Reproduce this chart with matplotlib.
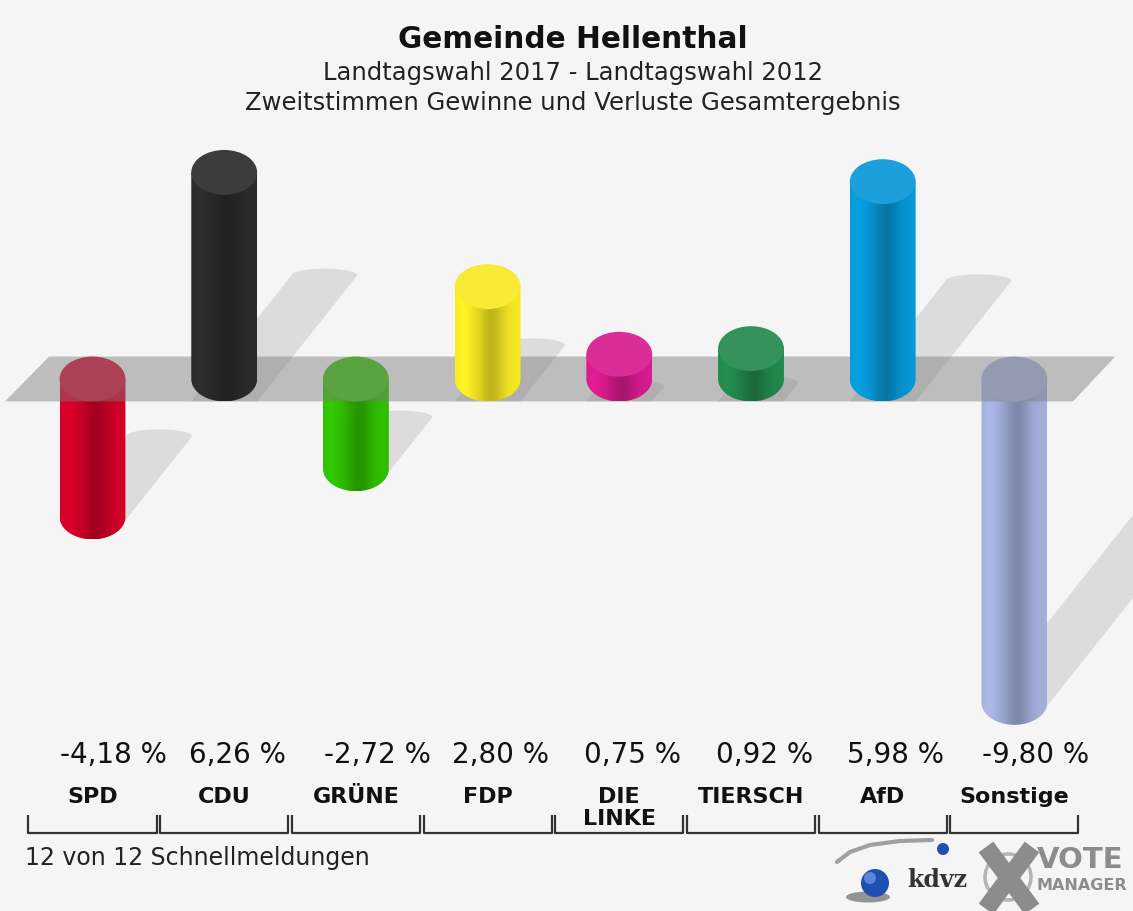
import matplotlib.pyplot as plt
import numpy as np
from matplotlib.patches import Ellipse, Polygon, Circle
from matplotlib import transforms
from matplotlib.colors import to_rgb

# Landtagswahl 2017 - 2012, Gemeinde Hellenthal, Gewinne und Verluste
parties = ["SPD", "CDU", "GRÜNE", "FDP", "DIE\nLINKE", "TIERSCH", "AfD", "Sonstige"]
values = [-4.18, 6.26, -2.72, 2.80, 0.75, 0.92, 5.98, -9.80]
colors = ["#d20028", "#2b2b2b", "#30c000", "#f7e823", "#d81b8e", "#22884c", "#0898d8", "#a4b0dc"]

title = "Gemeinde Hellenthal"
subtitle = "Landtagswahl 2017 - Landtagswahl 2012"
subtitle2 = "Zweitstimmen Gewinne und Verluste Gesamtergebnis"
footnote = "12 von 12 Schnellmeldungen"

BG = "#f5f5f5"
W = 0.25      # half bar width (category units)
A = 0.68      # half height of the cylinder ellipses (percent units)
SH_X = 0.1215  # shadow shift per percent
SH_Y = 0.61

W_PX, H_PX = 1133, 911


def fy(px):
    return 1 - px / H_PX


def shade(color, n=80):
    t = np.linspace(0, 1, n)
    f = 1 - 0.22 * np.exp(-((t - 0.55) / 0.2) ** 2) + 0.05 * np.exp(-((t - 0.12) / 0.1) ** 2)
    rgb = np.array(to_rgb(color))
    return np.clip(rgb[None, :] * f[:, None], 0, 1)[None, :, :]


def lighter(color, k=0.08):
    rgb = np.array(to_rgb(color))
    return tuple(rgb + (1 - rgb) * k)


def draw_body(ax, cx, y0, y1, color, z):
    th = np.linspace(0, np.pi, 50)
    verts = list(zip(cx + W * np.cos(th), y0 - A * np.sin(th)))
    verts += [(cx - W, y1), (cx + W, y1)]
    clip = Polygon(verts, closed=True, transform=ax.transData)
    im = ax.imshow(shade(color), extent=[cx - W, cx + W, y0 - A, y1], aspect="auto",
                   interpolation="bilinear", zorder=z)
    im.set_clip_path(clip)


def draw_shadow(ax, cx, v):
    base = -A if v > 0 else v - 0.1
    dx, dy = SH_X * abs(v), SH_Y * abs(v)
    th = np.linspace(0, np.pi, 30)
    pts = [(cx - W, base), (cx + W, base)]
    pts += list(zip(cx + dx + W * np.cos(th), base + dy + 0.3 * A * np.sin(th)))
    ax.add_patch(Polygon(pts, closed=True, facecolor="#dcdcdc", edgecolor="none", zorder=1))


fig = plt.figure(figsize=(W_PX / 100, H_PX / 100), dpi=100, facecolor=BG)
ax = fig.add_axes([0, 0, 1, 1])
ax.set_facecolor(BG)
ax.axis("off")

x = np.arange(len(parties))

for cx, v in zip(x, values):
    draw_shadow(ax, cx, v)

# negative bars hang below the zero band
for cx, v, c in zip(x, values, colors):
    if v < 0:
        draw_body(ax, cx, v, 0, c, 2)
        ax.add_patch(Ellipse((cx, 0), 2 * W, 2 * A, facecolor=lighter(c), edgecolor="none", zorder=2.5))

# zero band
n = len(parties)
band = [(-0.664, -A), (-0.33, A), (n - 1 + 0.765, A), (n - 1 + 0.445, -A)]
ax.add_patch(Polygon(band, closed=True, facecolor="#7a7a7a", alpha=0.45, edgecolor="none", zorder=3))

for cx, v, c in zip(x, values, colors):
    if v > 0:
        draw_body(ax, cx, 0, v, c, 4)
        ax.add_patch(Ellipse((cx, v), 2 * W, 2 * A, facecolor=lighter(c), edgecolor="none", zorder=4.5))

ax.set_xlim(-92.5 / 131.7, (W_PX - 92.5) / 131.7)
ax.set_ylim(-(H_PX - 379) / 33, 379 / 33)

# titles
fig.text(0.5057, fy(39), title, ha="center", va="center", fontsize=21.3, fontweight="bold", color="#111111")
fig.text(0.5057, fy(73), subtitle, ha="center", va="center", fontsize=17.5, color="#222222")
fig.text(0.5057, fy(103), subtitle2, ha="center", va="center", fontsize=17.5, color="#222222")

trans = transforms.blended_transform_factory(ax.transData, fig.transFigure)
for cx, v, p in zip(x, values, parties):
    txt = f"{v:.2f}".replace(".", ",") + " %"
    shift = 0.16 if v < 0 else 0.1
    ax.text(cx + shift, fy(755), txt, transform=trans, ha="center", va="center", fontsize=20,
            color="#111111")
    ax.text(cx, fy(787), p, transform=trans, ha="center", va="top", fontsize=16, fontweight="bold",
            color="#111111", linespacing=1.15)
    ax.plot([cx - 0.486, cx - 0.486, cx + 0.486, cx + 0.486], [fy(815), fy(833), fy(833), fy(815)],
            transform=trans, color="#333333", lw=1.6, solid_capstyle="butt", clip_on=False)

fig.text(25 / W_PX, fy(858), footnote, ha="left", va="center", fontsize=17, color="#222222")

# logos bottom right
lg = fig.add_axes([820 / W_PX, 0, 313 / W_PX, 76 / H_PX])
lg.set_xlim(0, 313)
lg.set_ylim(76, 0)
lg.axis("off")
sx = np.array([17, 30, 50, 80, 112])
sy = np.array([27, 17, 10, 6, 5])
lg.plot(sx, sy, color="#a0a0a0", lw=3, solid_capstyle="round")
lg.add_patch(Ellipse((48, 62), 44, 11, facecolor="#333333", alpha=0.5, edgecolor="none"))
lg.add_patch(Circle((55, 48), 14, facecolor="#1f4fb0", edgecolor="none"))
lg.add_patch(Circle((50, 43), 6, facecolor="#5a86d8", edgecolor="none"))
lg.add_patch(Circle((123, 14), 6, facecolor="#1f4fb0", edgecolor="none"))
lg.text(87, 45, "kdvz", fontsize=17, fontweight="bold", family="DejaVu Serif", color="#333333",
        ha="left", va="center")
lg.add_patch(Circle((188, 42), 23, facecolor="none", edgecolor="#b4b4b4", lw=2.5))
lg.plot([166, 212], [12, 74], color="#8c8c8c", lw=13, solid_capstyle="butt")
lg.plot([212, 166], [12, 74], color="#8c8c8c", lw=13, solid_capstyle="butt")
lg.text(217, 25, "VOTE", fontsize=21, fontweight="bold", color="#8c8c8c", ha="left", va="center")
lg.text(217, 51, "MANAGER", fontsize=11.5, fontweight="bold", color="#8c8c8c", ha="left", va="center")

fig.savefig("out.png", dpi=100, facecolor=BG)
